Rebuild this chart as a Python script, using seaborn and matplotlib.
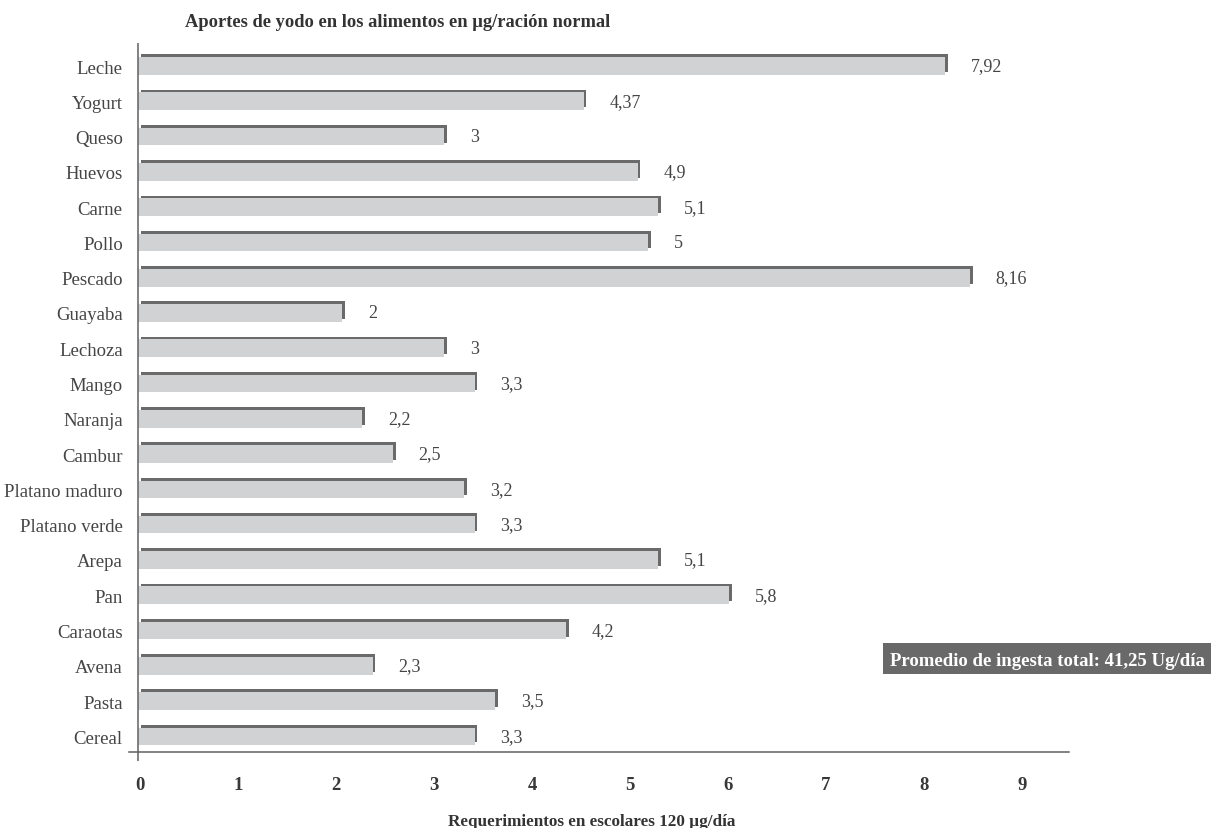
import numpy as np
import pandas as pd
import matplotlib
matplotlib.use("Agg")
import matplotlib.pyplot as plt
import matplotlib.patheffects as pe
from matplotlib.patches import Rectangle
import seaborn as sns

# ---- data ----
categories = ["Leche", "Yogurt", "Queso", "Huevos", "Carne", "Pollo", "Pescado",
              "Guayaba", "Lechoza", "Mango", "Naranja", "Cambur", "Platano maduro",
              "Platano verde", "Arepa", "Pan", "Caraotas", "Avena", "Pasta", "Cereal"]
values = [7.92, 4.37, 3, 4.9, 5.1, 5, 8.16, 2, 3, 3.3, 2.2, 2.5, 3.2, 3.3,
          5.1, 5.8, 4.2, 2.3, 3.5, 3.3]
value_labels = ["7,92", "4,37", "3", "4,9", "5,1", "5", "8,16", "2", "3", "3,3",
                "2,2", "2,5", "3,2", "3,3", "5,1", "5,8", "4,2", "2,3", "3,5", "3,3"]
tick_labels = ["0", "1", "2", "3", "4", "5", "6", "7", "8", "9"]
title = "Aportes de yodo en los alimentos en µg/ración normal"
xlabel = "Requerimientos en escolares 120 µg/día"
note = "Promedio de ingesta total: 41,25 Ug/día"

df = pd.DataFrame({"alimento": categories, "valor": values})

# ---- style ----
sns.set_theme(style="white")
plt.rcParams["font.family"] = ["Liberation Serif", "DejaVu Serif"]

W, H, DPI = 1212, 829, 100
fig = plt.figure(figsize=(W / DPI, H / DPI), dpi=DPI)
fig.patch.set_facecolor("white")

ax_left, ax_right, ax_top, ax_bottom = 129, 1068.7, 44, 753.3
ax = fig.add_axes([ax_left / W, 1 - ax_bottom / H,
                   (ax_right - ax_left) / W, (ax_bottom - ax_top) / H])

BAR_FILL = "#d1d2d4"
BAR_EDGE = "#6a6a6a"
TEXT = "#454545"
AXIS = "#606060"

sns.barplot(data=df, x="valor", y="alimento", orient="h", color=BAR_FILL,
            saturation=1, width=0.5, edgecolor="none", linewidth=0, ax=ax)

for p in ax.patches:
    p.set_path_effects([pe.SimplePatchShadow(offset=(2.0, 2.0),
                                             shadow_rgbFace=BAR_EDGE, alpha=1.0),
                        pe.Normal()])

# pixel geometry of the reference
px_per_unit = 101.9
zero_px = 138.3
ax.set_xlim((ax_left - zero_px) / px_per_unit, (ax_right - zero_px) / px_per_unit)
row0_px, row_step = 67.0, 35.28
ax.set_ylim((ax_bottom - row0_px) / row_step, (ax_top - row0_px) / row_step)

# ticks
tick_pos = (np.arange(len(tick_labels)) * 98.0 + (140 - zero_px)) / px_per_unit
ax.set_xticks(tick_pos)
ax.set_xticklabels(tick_labels, fontsize=13.5, fontweight="bold", color="#383838")
ax.tick_params(axis="x", length=0, pad=17)
ax.tick_params(axis="y", length=0, pad=4.5, labelsize=13.5, labelcolor=TEXT)
ax.set_xlabel("")
ax.set_ylabel("")

for s in ["top", "right", "left"]:
    ax.spines[s].set_visible(False)
ax.spines["bottom"].set_color(AXIS)
ax.spines["bottom"].set_linewidth(1.1)

# y axis line at x=0, extending slightly below x axis
ax.plot([0, 0], [(ax_top - row0_px) / row_step, (761.7 - row0_px) / row_step],
        color=AXIS, lw=1.1, clip_on=False, solid_capstyle="butt")

# value labels
for i, (v, lab) in enumerate(zip(values, value_labels)):
    ax.annotate(lab, xy=(v, i), xytext=(18.5, 0), textcoords="offset points",
                ha="left", va="center", fontsize=13, color=TEXT)

# title and x label
fig.text(185 / W, 1 - 27.3 / H, title, ha="left", va="baseline",
         fontsize=13.3, fontweight="bold", color="#333333")
fig.text(592 / W, 1 - 826 / H, xlabel, ha="center", va="baseline",
         fontsize=12.3, fontweight="bold", color="#333333")

# note box
bx0, bx1, by0, by1 = 883, 1211, 644, 674.7
fig.patches.append(Rectangle((bx0 / W, 1 - by1 / H), (bx1 - bx0) / W, (by1 - by0) / H,
                             transform=fig.transFigure, facecolor="#696969",
                             edgecolor="none"))
fig.text((bx0 + bx1) / 2 / W, 1 - (by0 + by1) / 2 / H, note, ha="center",
         va="center_baseline", fontsize=13.5, fontweight="bold", color="white")

fig.savefig("out.png", dpi=DPI, facecolor="white")
